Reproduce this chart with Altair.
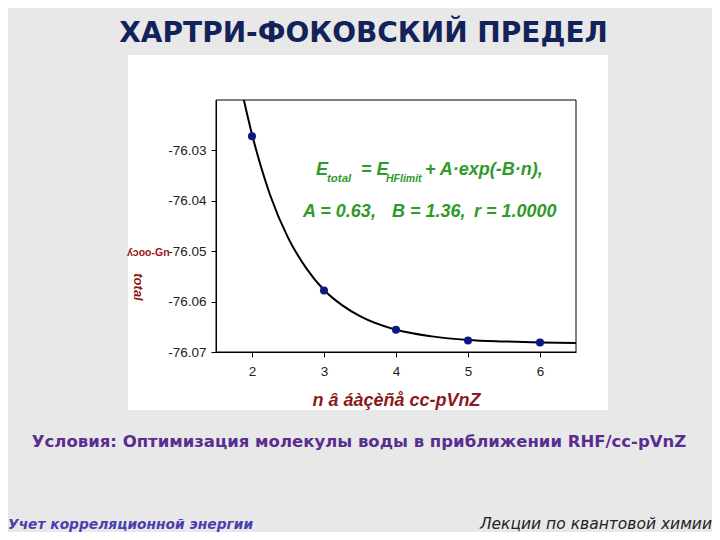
import altair as alt
import pandas as pd

# ---- data ----
n_basis = [2, 3, 4, 5, 6]
e_total = [-76.0272, -76.0578, -76.0656, -76.0677, -76.0681]

# fitted curve E = E_HFlimit + A*exp(-B*n)
curve_n = [1.85, 2.0, 2.25, 2.5, 2.75, 3.0, 3.25, 3.5, 4.0, 4.5, 5.0, 5.5, 6.0, 6.5]
curve_e = [-76.0177, -76.0268, -76.0388, -76.0473, -76.0533, -76.0577, -76.0607,
           -76.0629, -76.0656, -76.0669, -76.0676, -76.0679, -76.0681, -76.0682]

x_ticks = [2, 3, 4, 5, 6]
y_ticks = [-76.07, -76.06, -76.05, -76.04, -76.03]

title_text = "ХАРТРИ-ФОКОВСКИЙ ПРЕДЕЛ"
cond_text = "Условия:  Оптимизация молекулы воды в приближении RHF/cc-pVnZ"
foot_left = "Учет корреляционной энергии"
foot_right = "Лекции по квантовой химии"
x_title = "n â áàçèñå cc-pVnZ"

pts = pd.DataFrame({"n": n_basis, "E": e_total})
crv = pd.DataFrame({"n": curve_n, "E": curve_e})
one = pd.DataFrame({"k": [0]})

W, H = 360, 252
GREEN = "#2f9a2a"
DRED = "#8b1a1a"

xs = alt.Scale(domain=[1.5, 6.5], nice=False, zero=False)
ys = alt.Scale(domain=[-76.07, -76.02], nice=False, zero=False)

panel = alt.Chart(one).mark_rect(color="white").encode(
    x=alt.value(-88), x2=alt.value(392), y=alt.value(-45), y2=alt.value(310)
)
frame = alt.Chart(one).mark_rect(filled=False, stroke="black", strokeWidth=1).encode(
    x=alt.value(0), x2=alt.value(W), y=alt.value(0), y2=alt.value(H)
)

line = alt.Chart(crv).mark_line(color="black", strokeWidth=2, clip=True,
                                interpolate="monotone").encode(
    x=alt.X("n:Q", scale=xs,
            axis=alt.Axis(values=x_ticks, title=x_title, format="d", zindex=1,
                          titleFont="Liberation Sans", titleFontSize=18,
                          titleFontStyle="italic", titleFontWeight="bold",
                          titleColor=DRED, titlePadding=14)),
    y=alt.Y("E:Q", scale=ys,
            axis=alt.Axis(values=y_ticks, title=None, zindex=1,
                          labelExpr="'-' + format(abs(datum.value), '.2f')")),
)
points = alt.Chart(pts).mark_circle(size=65, color="#0b1a80", opacity=1).encode(
    x=alt.X("n:Q", scale=xs), y=alt.Y("E:Q", scale=ys)
)


def txt(s, x, y, size, color, weight="normal", style="normal", align="left",
        font="Liberation Sans", angle=0):
    kw = dict(text=s, fontSize=size, color=color, fontWeight=weight,
              fontStyle=style, align=align, baseline="alphabetic", font=font)
    if angle:
        kw["angle"] = angle
    return alt.Chart(one).mark_text(**kw).encode(x=alt.value(x), y=alt.value(y))


texts = [
    txt(title_text, 147.5, -58, 28, "#13235a", weight="bold", align="center",
        font="DejaVu Sans"),
    txt(cond_text, 143, 347, 16.5, "#5a2d91", weight="bold", align="center",
        font="DejaVu Sans"),
    txt(foot_left, -208, 429, 13.8, "#4b3fae", weight="bold", style="italic",
        font="DejaVu Sans"),
    txt(foot_right, 496, 429, 15.5, "#222222", style="italic", align="right",
        font="DejaVu Sans"),
    # equation
    txt("E", 100, 75, 18, GREEN, "bold", "italic"),
    txt("total", 111, 82, 11.5, GREEN, "bold", "italic"),
    txt("= E", 145, 75, 18, GREEN, "bold", "italic"),
    txt("HFlimit", 170, 82, 10.5, GREEN, "bold", "italic"),
    txt("+ A·exp(-B·n),", 209, 75, 18, GREEN, "bold", "italic"),
    txt("A = 0.63,", 87, 116.5, 18, GREEN, "bold", "italic"),
    txt("B = 1.36,", 176, 116.5, 18, GREEN, "bold", "italic"),
    txt("r = 1.0000", 258, 116.5, 18, GREEN, "bold", "italic"),
    # garbled y-axis title
    txt("ʎɔoo-Gn", -89, 156, 10.5, "#9a1515", "bold", "normal"),
    txt("total", -82, 187, 13, DRED, "bold", "italic", align="center", angle=90),
]

chart = alt.layer(panel, line, points, frame, *texts).properties(
    width=W, height=H,
    padding={"left": 208, "top": 92, "right": 136, "bottom": 180},
    autosize=alt.AutoSizeParams(type="none"),
    background="#e8e8e8",
).configure_view(stroke=None, fill="white").configure_axis(
    labelFont="Liberation Sans", labelFontSize=13.5, labelColor="#222222",
    tickColor="black", domainColor="black", tickSize=5, labelPadding=5,
    grid=False,
).configure_axisX(labelPadding=7)

chart.save("out.html", embed_options={"renderer": "svg", "actions": False})
